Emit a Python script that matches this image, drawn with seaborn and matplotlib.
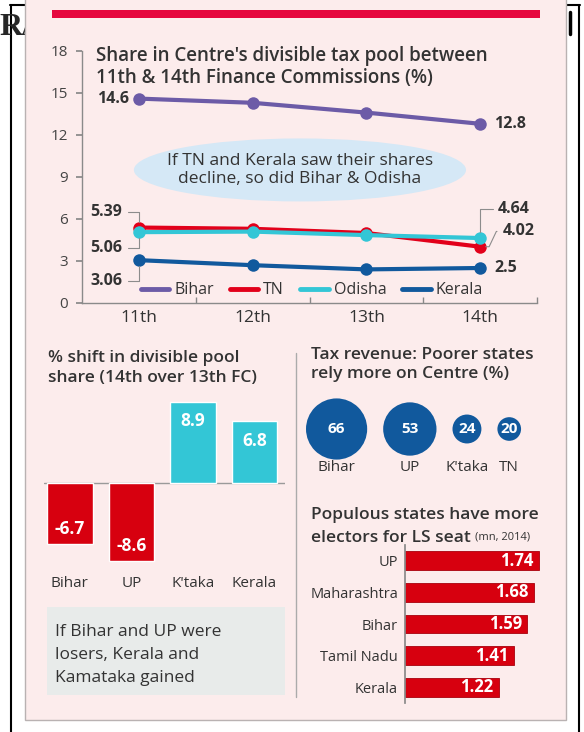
import numpy as np
import pandas as pd
import matplotlib
matplotlib.use("Agg")
import matplotlib.pyplot as plt
import seaborn as sns
from matplotlib.lines import Line2D
from matplotlib.patches import Rectangle, Ellipse

commissions = ["11th", "12th", "13th", "14th"]
share_states = ["Bihar", "TN", "Odisha", "Kerala"]
bihar_share = [14.6, 14.3, 13.6, 12.8]
tn_share = [5.39, 5.3, 5.0, 4.02]
odisha_share = [5.06, 5.1, 4.85, 4.64]
kerala_share = [3.06, 2.7, 2.4, 2.5]

shift_states = ["Bihar", "UP", "K'taka", "Kerala"]
shift_pct = [-6.7, -8.6, 8.9, 6.8]

dep_states = ["Bihar", "UP", "K'taka", "TN"]
dep_pct = [66, 53, 24, 20]

elector_states = ["UP", "Maharashtra", "Bihar", "Tamil Nadu", "Kerala"]
electors_mn = [1.74, 1.68, 1.59, 1.41, 1.22]

# colours
PURPLE = "#6c5ba7"
RED = "#e2001a"
CYAN = "#33c6d6"
NAVY = "#11599d"
BAR_RED = "#d7000f"
INK = "#333333"

sns.set_theme(style="white")
plt.rcParams["font.family"] = ["Open Sans", "DejaVu Sans"]

W, H = 584, 732


def box(x0, y0, x1, y1):
    # pixel box (top-left origin) -> figure fraction rect
    return [x0 / W, 1 - y1 / H, (x1 - x0) / W, (y1 - y0) / H]


def fx(x):
    return x / W


def fy(y):
    return 1 - y / H


fig = plt.figure(figsize=(W / 100, H / 100), dpi=100)
fig.patch.set_facecolor("white")

# page frame + clipped headline behind the card
fig.add_artist(Line2D([fx(10), fx(580)], [fy(5), fy(5)], color="black", lw=1.5, zorder=-6))
fig.add_artist(Line2D([fx(11), fx(11)], [fy(5), 0], color="black", lw=1.5, zorder=-6))
fig.add_artist(Line2D([fx(579), fx(579)], [fy(5), 0], color="black", lw=1.5, zorder=-6))
fig.add_artist(Line2D([fx(570), fx(570)], [fy(12), fy(34)], color="black", lw=2.5, zorder=-6))
fig.text(fx(-1), fy(35), "R", family="Liberation Serif", weight="bold", fontsize=23,
         va="baseline", zorder=-5)
fig.text(fx(20), fy(35), "A", family="Liberation Serif", fontsize=23, va="baseline", zorder=-5)

# card
fig.add_artist(Rectangle((fx(25), fy(720)), fx(566) - fx(25), 1.02 - fy(720),
                         transform=fig.transFigure, facecolor="#fcecec",
                         edgecolor="#b9b2b2", lw=1, zorder=-4))
fig.add_artist(Rectangle((fx(52), fy(18)), fx(540) - fx(52), fy(10) - fy(18),
                         transform=fig.transFigure, facecolor="#e6083f",
                         edgecolor="none", zorder=-3))

# ---------------- line chart ----------------
ax1 = fig.add_axes(box(82, 51, 537, 303))
ax1.set_facecolor("none")
share_df = pd.DataFrame({
    "fc": commissions * 4,
    "state": np.repeat(share_states, len(commissions)),
    "share": bihar_share + tn_share + odisha_share + kerala_share,
})
line_colors = dict(zip(share_states, [PURPLE, RED, CYAN, NAVY]))

ax1.add_patch(Ellipse((0.479, 0.528), 0.73, 0.25, transform=ax1.transAxes,
                      facecolor="#d5e8f6", edgecolor="none", zorder=0))
ax1.text(0.479, 0.528, "If TN and Kerala saw their shares\ndecline, so did Bihar & Odisha",
         transform=ax1.transAxes, ha="center", va="center", fontsize=12.5, color=INK,
         linespacing=1.15, zorder=1)

sns.lineplot(data=share_df, x="fc", y="share", hue="state", palette=line_colors,
             marker="o", markersize=9, markeredgewidth=0, linewidth=3,
             sort=False, legend=False, ax=ax1, zorder=3)

ax1.set_xlim(-0.5, 3.5)
ax1.set_ylim(0, 18)
ax1.set_yticks(range(0, 19, 3))
ax1.set_xticks(range(4))
ax1.set_xticklabels(commissions)
ax1.set_xticks([0.5, 1.5, 2.5, 3.5], minor=True)
ax1.set_xlabel("")
ax1.set_ylabel("")
ax1.tick_params(axis="x", which="major", length=0, pad=5, labelsize=12.5, labelcolor=INK)
ax1.tick_params(axis="x", which="minor", direction="in", length=4, color="#888", bottom=True)
ax1.tick_params(axis="y", length=4, color="#888", left=True, labelsize=11,
                labelcolor="#444", pad=6)
sns.despine(ax=ax1)
for side in ["left", "bottom"]:
    ax1.spines[side].set_color("#8a8a8a")
    ax1.spines[side].set_linewidth(1)

fig.text(fx(96), fy(46), "Share in Centre's divisible tax pool between\n11th & 14th Finance Commissions (%)",
         ha="left", va="top", fontsize=13.5, weight="semibold", color=INK, linespacing=1.1)

handles = [Line2D([], [], color=line_colors[s], lw=3.5) for s in share_states]
ax1.legend(handles, share_states, ncol=4, loc="center", bbox_to_anchor=(0.505, 0.05),
           frameon=False, handlelength=1.8, columnspacing=1.0, handletextpad=0.3,
           fontsize=11.5, labelcolor=INK)

lab = dict(fontsize=11.5, weight="bold", color=INK, textcoords="offset points", va="center")
ax1.annotate(f"{bihar_share[0]}", xy=(0, bihar_share[0]), xytext=(-7, 0), ha="right", **lab)
ax1.annotate(f"{bihar_share[3]}", xy=(3, bihar_share[3]), xytext=(10, 0), ha="left", **lab)
ax1.annotate(f"{kerala_share[3]}", xy=(3, kerala_share[3]), xytext=(10, 0), ha="left", **lab)


def elbow(style, relpos):
    return dict(arrowstyle="-", color="#8c8c8c", lw=0.8, connectionstyle=style,
                relpos=relpos, shrinkA=1.5, shrinkB=4)


left_elbow = "angle,angleA=0,angleB=90,rad=0"
ax1.annotate(f"{tn_share[0]}", xy=(0, tn_share[0]), xytext=(-12, 11), ha="right",
             arrowprops=elbow(left_elbow, (1, 0.5)), **lab)
ax1.annotate(f"{odisha_share[0]}", xy=(0, odisha_share[0]), xytext=(-12, -11.5), ha="right",
             arrowprops=elbow(left_elbow, (1, 0.5)), **lab)
ax1.annotate(f"{kerala_share[0]}", xy=(0, kerala_share[0]), xytext=(-12, -15), ha="right",
             arrowprops=elbow(left_elbow, (1, 0.5)), **lab)
ax1.annotate(f"{odisha_share[3]}", xy=(3, odisha_share[3]), xytext=(13, 21), ha="left",
             arrowprops=elbow(left_elbow, (0, 0.5)), **lab)
ax1.annotate(f"{tn_share[3]}", xy=(3, tn_share[3]), xytext=(16, 11), ha="left",
             arrowprops=elbow("arc,angleA=180,angleB=0,armA=6,armB=9,rad=0", (0, 0.5)), **lab)

# ---------------- % shift bars ----------------
fig.text(fx(48), fy(350), "% shift in divisible pool\nshare (14th over 13th FC)",
         ha="left", va="top", fontsize=12.5, weight="semibold", color=INK, linespacing=1.35)

ax2 = fig.add_axes(box(44, 396.5, 285, 569.5))
ax2.set_facecolor("none")
shift_colors = [BAR_RED if v < 0 else CYAN for v in shift_pct]
sns.barplot(x=shift_states, y=shift_pct, hue=shift_states, palette=shift_colors,
            width=0.74, saturation=1, legend=False, ax=ax2, zorder=2)
ax2.axhline(0, color="#9a9a9a", lw=1, zorder=1)
ax2.set_xlim(-0.42, 3.5)
ax2.set_ylim(-9.5, 9.5)
ax2.set_yticks([])
ax2.tick_params(axis="x", length=0, pad=5, labelsize=11, labelcolor=INK)
sns.despine(ax=ax2, left=True, bottom=True)
for i, v in enumerate(shift_pct):
    ax2.annotate(f"{v}", xy=(i, v), xytext=(0, -14 if v > 0 else 11),
                 textcoords="offset points", ha="center", va="center",
                 color="white", weight="bold", fontsize=12.5)

fig.add_artist(Rectangle((fx(47), fy(695)), fx(285) - fx(47), fy(607) - fy(695),
                         transform=fig.transFigure, facecolor="#e8ebea",
                         edgecolor="none", zorder=-1))
fig.text(fx(55), fy(624), "If Bihar and UP were\nlosers, Kerala and\nKamataka gained",
         ha="left", va="top", fontsize=12.5, color=INK, linespacing=1.6)

fig.add_artist(Line2D([fx(296), fx(296)], [fy(353), fy(697)], color="#ababab", lw=1))

# ---------------- dependence bubbles ----------------
fig.text(fx(311), fy(347), "Tax revenue: Poorer states\nrely more on Centre (%)",
         ha="left", va="top", fontsize=12.5, weight="semibold", color=INK, linespacing=1.25)

ax3 = fig.add_axes(box(300, 395, 560, 480))
ax3.set_facecolor("none")
ax3.set_xlim(300, 560)
ax3.set_ylim(-51, 34)
ax3.axis("off")

s_small, s_big = 290, 1940
vmin, vmax = min(dep_pct), max(dep_pct)
radii = [np.sqrt(s_small + (v - vmin) / (vmax - vmin) * (s_big - s_small)) / 2 / 0.72
         for v in dep_pct]
gap = 16
centers = []
edge = 306
for r in radii:
    centers.append(edge + r)
    edge = edge + 2 * r + gap
sns.scatterplot(x=centers, y=[0] * len(dep_pct), size=dep_pct, sizes=(s_small, s_big),
                size_norm=(vmin, vmax), color=NAVY, linewidth=0, legend=False, ax=ax3)
for cx, v, name in zip(centers, dep_pct, dep_states):
    ax3.text(cx, 0, f"{v}", ha="center", va="center", color="white",
             weight="bold", fontsize=11)
    ax3.text(cx, -39, name, ha="center", va="center", color=INK, fontsize=11)

# ---------------- electors bars ----------------
fig.text(fx(311), fy(519), "Populous states have more", ha="left", va="baseline",
         fontsize=12.5, weight="semibold", color=INK)
t2 = fig.text(fx(311), fy(542), "electors for LS seat", ha="left", va="baseline",
              fontsize=12.5, weight="semibold", color=INK)
ax_note = fig.add_axes([0, 0, 1, 1])
ax_note.axis("off")
ax_note.annotate("(mn, 2014)", xy=(1, 0), xycoords=t2, xytext=(3, 2.5),
                 textcoords="offset points", ha="left", va="bottom",
                 fontsize=8, color=INK)

ax4 = fig.add_axes(box(405, 545, 560, 703))
ax4.set_facecolor("none")
sns.barplot(x=electors_mn, y=elector_states, orient="h", color=BAR_RED, width=0.6,
            saturation=1, edgecolor="#a8000c", linewidth=0.6, ax=ax4)
ax4.set_xlim(0, 2.013)
ax4.set_xticks([])
ax4.set_xlabel("")
ax4.set_ylabel("")
ax4.tick_params(axis="y", length=0, pad=5, labelsize=10.5, labelcolor=INK)
sns.despine(ax=ax4, bottom=True)
ax4.spines["left"].set_color("#8a8a8a")
for i, v in enumerate(electors_mn):
    ax4.annotate(f"{v:.2f}", xy=(v, i), xytext=(-4, 0), textcoords="offset points",
                 ha="right", va="center", color="white", weight="bold", fontsize=12)

fig.savefig("out.png", dpi=100)
